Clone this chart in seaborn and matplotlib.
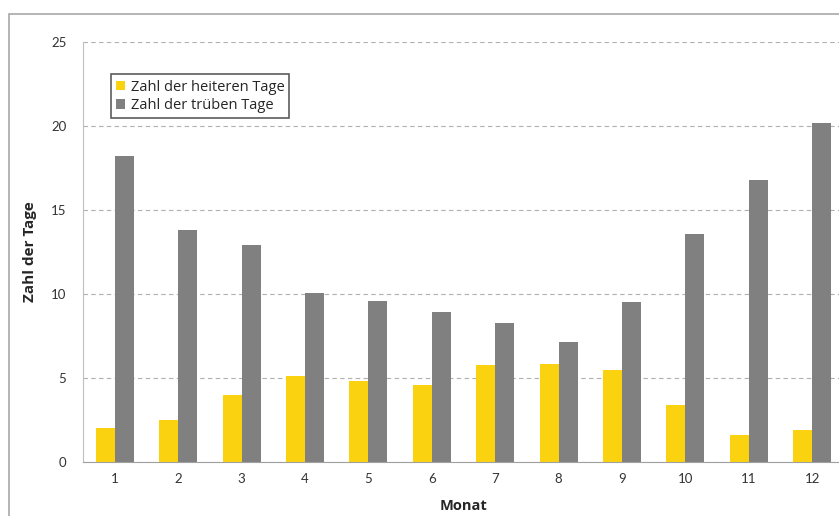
import numpy as np
import pandas as pd
import matplotlib
matplotlib.use('Agg')
import matplotlib.pyplot as plt
import seaborn as sns
from matplotlib.patches import Rectangle

# Data
months = ['1', '2', '3', '4', '5', '6', '7', '8', '9', '10', '11', '12']
heitere_tage = [2.0, 2.5, 4.0, 5.1, 4.8, 4.6, 5.8, 5.85, 5.5, 3.4, 1.6, 1.9]
truebe_tage = [18.2, 13.8, 12.9, 10.05, 9.6, 8.9, 8.3, 7.15, 9.5, 13.6, 16.8, 20.2]
series_names = ['Zahl der heiteren Tage', 'Zahl der trüben Tage']

df = pd.DataFrame({
    'Monat': months * 2,
    'Tage': heitere_tage + truebe_tage,
    'Serie': [series_names[0]] * len(months) + [series_names[1]] * len(months),
})

sns.set_style('white')
plt.rcParams['font.family'] = ['Lato', 'DejaVu Sans']

fig = plt.figure(figsize=(8.39, 5.16), dpi=100)
ax = fig.add_axes([83 / 839, 54 / 516, 761 / 839, 420 / 516])

sns.barplot(
    data=df, x='Monat', y='Tage', hue='Serie',
    palette=['#FBD20F', '#808080'], width=0.6,
    saturation=1, linewidth=0, ax=ax, legend=True
)

ax.set_ylim(0, 25)
ax.set_xlim(-0.5, 11.5)
ax.set_yticks([0, 5, 10, 15, 20, 25])
ax.yaxis.grid(True, linestyle=(0, (4, 3)), color='#b0b0b0', linewidth=0.8)
ax.set_axisbelow(True)

for side in ['top', 'right']:
    ax.spines[side].set_visible(False)
ax.spines['left'].set_color('#c0c0c0')
ax.spines['bottom'].set_color('#a0a0a0')

# Excel-style ticks between categories
ax.set_xticks(np.arange(-0.5, 12, 1), minor=True)
ax.tick_params(axis='x', which='major', length=0, labelsize=9.5, pad=8, colors='#333333')
ax.tick_params(axis='x', which='minor', length=4, color='#a0a0a0', direction='out')
ax.tick_params(axis='y', length=0, labelsize=9.5, pad=12, colors='#333333')

ax.set_xlabel('Monat', fontsize=10.5, fontweight='bold', labelpad=10,
              family=['Open Sans', 'DejaVu Sans'])
ax.set_ylabel('Zahl der Tage', fontsize=11, fontweight='bold', labelpad=10,
              family=['Open Sans', 'DejaVu Sans'])

leg = ax.legend(
    loc='upper left', bbox_to_anchor=(0.027, 0.94),
    prop={'family': ['Open Sans', 'DejaVu Sans'], 'size': 10.5},
    frameon=True, fancybox=False, handlelength=0.6, handleheight=0.6,
    handletextpad=0.4, borderpad=0.35, labelspacing=0.25
)
leg.get_frame().set_edgecolor('#333333')
leg.get_frame().set_linewidth(1.2)

# Outer chart frame
fig.patches.append(Rectangle((9 / 839, -0.02), 1.0, (516 - 14) / 516 + 0.02,
                             transform=fig.transFigure, fill=False,
                             edgecolor='#a8a8a8', linewidth=1.2))

fig.savefig('out.png', dpi=100)
